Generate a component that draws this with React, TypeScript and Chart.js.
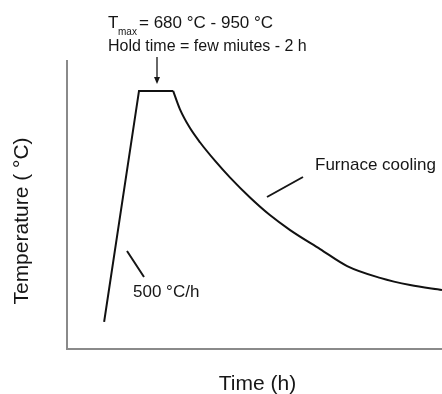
import React, { useEffect, useRef } from "react";
import { Chart, registerables } from "chart.js";

Chart.register(...registerables);

// Heating ramp + hold (time in arbitrary hours units, temperature in °C)
const rampTime = [0.99, 1.92, 2.83];
const rampTemp = [94, 896, 896];

// Furnace cooling curve
const coolTime = [2.83, 3.01, 3.28, 3.55, 3.95, 4.35, 4.88, 5.41, 5.95, 6.75, 7.47, 8.35, 9.15, 10.0];
const coolTemp = [896, 833, 767, 717, 653, 595, 526, 465, 413, 347, 288, 247, 222, 205];

const xTitle = "Time (h)";
const yTitle = "Temperature ( °C)";
const tmaxMain = "T";
const tmaxSub = "max";
const tmaxRest = "= 680 °C - 950 °C";
const holdText = "Hold time = few miutes - 2 h";
const coolLabel = "Furnace cooling";
const rateLabel = "500 °C/h";

const FONT = "'Liberation Sans', Arial, sans-serif";
const TEXT = "#161616";

const annotate = {
  id: "annotate",
  afterDraw(chart: any) {
    const ctx = chart.ctx as CanvasRenderingContext2D;
    ctx.save();
    ctx.fillStyle = TEXT;
    ctx.strokeStyle = TEXT;
    ctx.textBaseline = "alphabetic";
    ctx.textAlign = "left";

    // top texts
    ctx.font = `17px ${FONT}`;
    ctx.fillText(tmaxMain, 108, 28);
    ctx.font = `10px ${FONT}`;
    ctx.fillText(tmaxSub, 118, 35);
    ctx.font = `17px ${FONT}`;
    ctx.fillText(tmaxRest, 139, 28);
    ctx.font = `16px ${FONT}`;
    ctx.fillText(holdText, 108, 51);

    // arrow
    ctx.lineWidth = 1.3;
    ctx.beginPath();
    ctx.moveTo(157, 57);
    ctx.lineTo(157, 80);
    ctx.stroke();
    ctx.beginPath();
    ctx.moveTo(154, 77);
    ctx.lineTo(157, 84);
    ctx.lineTo(160, 77);
    ctx.closePath();
    ctx.fill();

    // leader lines
    ctx.lineWidth = 2;
    ctx.beginPath();
    ctx.moveTo(267, 197);
    ctx.lineTo(303, 177);
    ctx.moveTo(127, 251);
    ctx.lineTo(144, 277);
    ctx.stroke();

    ctx.font = `17px ${FONT}`;
    ctx.fillText(coolLabel, 315, 170);
    ctx.fillText(rateLabel, 133, 297);

    // axis titles
    ctx.font = `21px ${FONT}`;
    ctx.textAlign = "center";
    ctx.fillText(xTitle, 257.5, 390);
    ctx.translate(28, 221);
    ctx.rotate(-Math.PI / 2);
    ctx.fillText(yTitle, 0, 0);
    ctx.restore();
  },
};

export default function App() {
  const ref = useRef<HTMLCanvasElement>(null);
  useEffect(() => {
    if (!ref.current) return;
    const chart = new Chart(ref.current, {
      type: "line",
      data: {
        datasets: [
          {
            data: rampTime.map((t, i) => ({ x: t, y: rampTemp[i] })),
            borderColor: "#111",
            borderWidth: 2,
            pointRadius: 0,
            tension: 0,
          },
          {
            data: coolTime.map((t, i) => ({ x: t, y: coolTemp[i] })),
            borderColor: "#111",
            borderWidth: 2,
            pointRadius: 0,
            cubicInterpolationMode: "monotone",
          },
        ],
      },
      options: {
        responsive: false,
        animation: false,
        devicePixelRatio: 1,
        layout: { padding: { left: 67, right: 0, top: 61, bottom: 45 } },
        plugins: { legend: { display: false }, tooltip: { enabled: false } },
        scales: {
          x: {
            type: "linear",
            min: 0,
            max: 10,
            ticks: { display: false },
            grid: { display: false, drawTicks: false },
            border: { display: true, color: "#8a8a8a", width: 2 },
          },
          y: {
            type: "linear",
            min: 0,
            max: 1000,
            ticks: { display: false },
            grid: { display: false, drawTicks: false },
            border: { display: true, color: "#8a8a8a", width: 2 },
          },
        },
      },
      plugins: [annotate],
    });
    return () => chart.destroy();
  }, []);
  return (
    <div style={{ position: "fixed", left: 0, top: 0, width: 442, height: 394, background: "#fff" }}>
      <canvas ref={ref} width={442} height={394} style={{ display: "block" }} />
    </div>
  );
}
